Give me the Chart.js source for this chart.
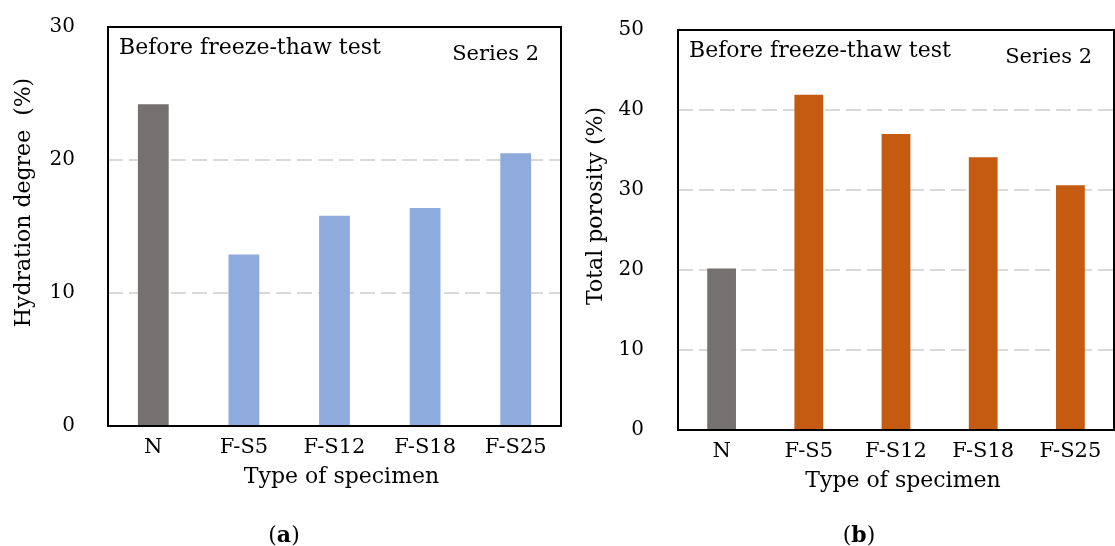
<!DOCTYPE html>
<html>
<head>
<meta charset="utf-8">
<script src="https://cdn.jsdelivr.net/npm/chart.js@4.4.1/dist/chart.umd.min.js"></script>
<style>
  body { margin:0; background:#fff; width:1115px; height:546px; overflow:hidden; position:relative; font-family:"DejaVu Serif", serif; }
  .panel { position:absolute; top:0; }
  .cap { position:absolute; top:520px; font-size:22px; line-height:28px; color:#000; transform:translateX(-50%); }
</style>
</head>
<body>
<div class="panel" style="left:0"><canvas id="hydrationChart" width="565" height="546"></canvas></div>
<div class="panel" style="left:565px"><canvas id="porosityChart" width="550" height="546"></canvas></div>
<div class="cap" style="left:284px">(<b>a</b>)</div>
<div class="cap" style="left:859px">(<b>b</b>)</div>
<script>
// data
const specimens = ['N', 'F-S5', 'F-S12', 'F-S18', 'F-S25'];
const hydration = [24.2, 12.9, 15.8, 16.4, 20.5];
const porosity = [20.2, 41.9, 37.0, 34.1, 30.6];
const hydrationTicks = [0, 10, 20, 30];
const porosityTicks = [0, 10, 20, 30, 40, 50];

const FONT = '"DejaVu Serif", serif';
const GREY = '#767171';

// frame round the plot + the text boxes inside it
const framePlugin = {
  id: 'frame',
  afterDraw(chart, args, o) {
    const ctx = chart.ctx, a = chart.chartArea;
    ctx.save();
    ctx.strokeStyle = '#000';
    ctx.lineWidth = 2;
    ctx.strokeRect(a.left, a.top, a.right - a.left, a.bottom - a.top);
    ctx.fillStyle = '#000';
    ctx.textBaseline = 'alphabetic';
    ctx.font = '22px ' + FONT;
    ctx.textAlign = 'left';
    ctx.fillText(o.note, a.left + 11, a.top + 27);
    ctx.font = '21px ' + FONT;
    ctx.textAlign = 'right';
    ctx.fillText(o.series, a.right - 22, a.top + 33);
    // axis titles
    ctx.font = '22px ' + FONT;
    ctx.textAlign = 'center';
    ctx.textBaseline = 'middle';
    ctx.fillText(o.xTitle, (a.left + a.right) / 2 + 7, a.bottom + 51);
    ctx.translate(o.yTitleX, (a.top + a.bottom) / 2 - 24);
    ctx.rotate(-Math.PI / 2);
    ctx.fillText(o.yTitle, 0, 0);
    ctx.restore();
  }
};

function noPad(s) {
  s.paddingTop = 0; s.paddingBottom = 0; s.paddingLeft = 0; s.paddingRight = 0;
}

function makeChart(id, values, ticks, barColor, geo) {
  const colors = specimens.map(s => s === 'N' ? GREY : barColor);
  return new Chart(document.getElementById(id), {
    type: 'bar',
    data: {
      labels: specimens,
      datasets: [{ data: values, backgroundColor: colors, borderWidth: 0, categoryPercentage: 1, barPercentage: geo.bar }]
    },
    options: {
      responsive: false,
      animation: false,
      layout: { padding: { left: 0, right: geo.padRight, top: geo.top, bottom: 0 } },
      plugins: {
        legend: { display: false },
        tooltip: { enabled: false },
        frame: geo.text
      },
      scales: {
        x: {
          grid: { display: false, drawTicks: false },
          border: { display: false },
          ticks: { color: '#000', padding: 9, font: { family: FONT, size: 21 } },
          afterFit: s => { s.height = geo.xHeight; noPad(s); }
        },
        y: {
          min: ticks[0],
          max: ticks[ticks.length - 1],
          afterBuildTicks: s => { s.ticks = ticks.map(v => ({ value: v })); },
          grid: {
            color: ctx => (ctx.tick && ctx.tick.value > ticks[0] && ctx.tick.value < ticks[ticks.length - 1]) ? '#D9D9D9' : 'rgba(0,0,0,0)',
            lineWidth: 2,
            drawTicks: false
          },
          border: { display: false, dash: [15, 6] },
          ticks: { color: '#000', padding: geo.tickPad, font: { family: FONT, size: 20 } },
          afterFit: s => { s.width = geo.yWidth; noPad(s); }
        }
      }
    },
    plugins: [framePlugin]
  });
}

makeChart('hydrationChart', hydration, hydrationTicks, '#8FAADC', {
  bar: 0.34, padRight: 4, top: 27, xHeight: 120, yWidth: 108, tickPad: 33,
  text: { note: 'Before freeze-thaw test', series: 'Series 2', xTitle: 'Type of specimen', yTitle: 'Hydration degree  (%)', yTitleX: 24 }
});

makeChart('porosityChart', porosity, porosityTicks, '#C55A11', {
  bar: 0.33, padRight: 1, top: 30, xHeight: 116, yWidth: 113, tickPad: 34,
  text: { note: 'Before freeze-thaw test', series: 'Series 2', xTitle: 'Type of specimen', yTitle: 'Total porosity (%)', yTitleX: 31 }
});
</script>
</body>
</html>
